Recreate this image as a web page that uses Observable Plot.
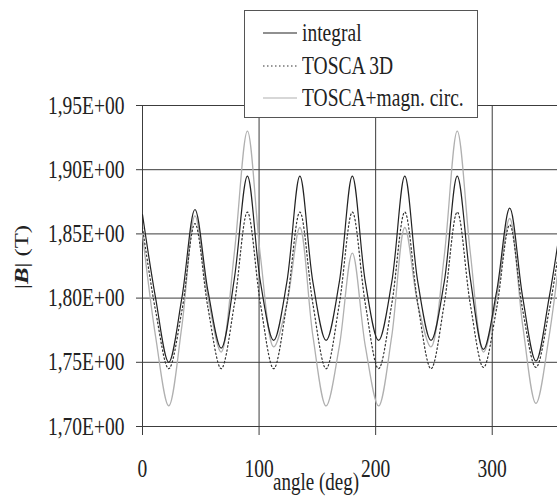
<!DOCTYPE html>
<html>
<head>
<meta charset="utf-8">
<script src="https://cdn.jsdelivr.net/npm/d3@7"></script>
<script src="https://cdn.jsdelivr.net/npm/@observablehq/plot@0.6"></script>
<style>
  body { margin: 0; background: #fff; }
  #wrap { position: relative; width: 557px; height: 498px; overflow: hidden;
          font-family: "Liberation Serif", "Times New Roman", serif; color: #222; }
  #chart { position: absolute; left: 0; top: 0; }
  .legend { position: absolute; left: 244px; top: 10px; width: 234px; height: 108px;
            border: 1px solid #555; background: #fff; box-sizing: border-box; }
  .item { position: absolute; left: 18px; height: 24px; display: flex; align-items: center; font-size: 19.5px; white-space: nowrap; }
  .item svg { margin-right: 5px; }
  .stretch { display: inline-block; transform: scaleY(1.3); transform-origin: center; }
  .xlabel { position: absolute; left: 273px; top: 471px; font-size: 19px; white-space: nowrap; }
  .ylabel { position: absolute; left: 22px; top: 257px; font-size: 19px; white-space: nowrap;
            transform: translate(-50%, -50%) rotate(-90deg) scaleX(1.3); }
</style>
</head>
<body>
<div id="wrap">
  <div id="chart"></div>
  <div class="legend" id="legend"></div>
  <div class="xlabel"><span class="stretch">angle (deg)</span></div>
  <div class="ylabel">|<b><i>B</i></b>| (T)</div>
</div>
<script>
// ---- data ----
const angles = [0, 11.25, 22.5, 33.75, 45, 56.25, 67.5, 78.75, 90, 101.25, 112.5, 123.75, 135, 146.25, 157.5, 168.75, 180,
                191.25, 202.5, 213.75, 225, 236.25, 247.5, 258.75, 270, 281.25, 292.5, 303.75, 315, 326.25, 337.5, 348.75, 360];
const integral = [1.865, 1.800, 1.750, 1.800, 1.869, 1.805, 1.761, 1.815, 1.895, 1.812, 1.767, 1.812, 1.895, 1.812, 1.767, 1.812, 1.895,
                  1.812, 1.767, 1.812, 1.895, 1.812, 1.767, 1.812, 1.895, 1.815, 1.760, 1.805, 1.870, 1.800, 1.751, 1.800, 1.865];
const tosca3d = [1.855, 1.790, 1.745, 1.790, 1.858, 1.792, 1.745, 1.795, 1.867, 1.795, 1.745, 1.795, 1.867, 1.795, 1.745, 1.795, 1.867,
                 1.795, 1.745, 1.795, 1.867, 1.795, 1.745, 1.795, 1.867, 1.795, 1.746, 1.792, 1.857, 1.790, 1.746, 1.790, 1.855];
const toscaMagn = [1.850, 1.770, 1.716, 1.778, 1.864, 1.800, 1.758, 1.835, 1.930, 1.832, 1.762, 1.795, 1.855, 1.770, 1.716, 1.762, 1.835,
                   1.762, 1.716, 1.770, 1.855, 1.795, 1.762, 1.832, 1.930, 1.835, 1.758, 1.800, 1.862, 1.778, 1.718, 1.770, 1.850];
const seriesNames = ["integral", "TOSCA 3D", "TOSCA+magn. circ."];
const yTicks = [1.70, 1.75, 1.80, 1.85, 1.90, 1.95];
const xTicks = [0, 100, 200, 300];
const xDomain = [0, 356];
const yDomain = [1.70, 1.95];

const data = angles.map((a, i) => ({angle: a, integral: integral[i], t3d: tosca3d[i], mc: toscaMagn[i]}));
const fmtY = d => d.toFixed(2).replace(".", ",") + "E+00";
const gridColor = "#3c3c3c";

const chart = Plot.plot({
  width: 557,
  height: 498,
  marginTop: 105,
  marginBottom: 72,
  marginLeft: 142,
  marginRight: 0,
  style: {fontFamily: "Liberation Serif, Times New Roman, serif", fontSize: "19px", color: "#222", background: "white"},
  x: {domain: xDomain, label: null},
  y: {domain: yDomain, label: null},
  marks: [
    Plot.gridY(yTicks, {stroke: gridColor, strokeOpacity: 1, strokeWidth: 1}),
    Plot.gridX(xTicks, {stroke: gridColor, strokeOpacity: 1, strokeWidth: 1}),
    Plot.axisY(yTicks, {tickSize: 6, tickPadding: 12, tickFormat: fmtY, stroke: gridColor, label: null, fontSize: 19.5}),
    Plot.axisX(xTicks, {tickSize: 9, tickPadding: 23, tickFormat: d => String(d), stroke: gridColor, label: null, fontSize: 19.5}),
    Plot.line(data, {x: "angle", y: "mc", stroke: "#b0b0b0", strokeWidth: 1.3, curve: "catmull-rom", clip: true}),
    Plot.line(data, {x: "angle", y: "t3d", stroke: "#333", strokeWidth: 1.2, strokeDasharray: "1.5,2.5", curve: "catmull-rom", clip: true}),
    Plot.line(data, {x: "angle", y: "integral", stroke: "#222", strokeWidth: 1.2, curve: "catmull-rom", clip: true})
  ]
});
document.getElementById("chart").appendChild(chart);

// vertical stretch of the tick labels, as in the scanned reference
d3.select(chart).selectAll('g[aria-label$="tick label"] text').each(function() {
  const t = this.getAttribute("transform");
  if (t) {
    this.setAttribute("transform", t + " scale(1,1.3)");
  } else {
    const x = +this.getAttribute("x") || 0, y = +this.getAttribute("y") || 0;
    this.removeAttribute("x"); this.removeAttribute("y");
    this.setAttribute("transform", `translate(${x},${y}) scale(1,1.3)`);
  }
});

// legend
const styles = [
  {stroke: "#222", dash: null},
  {stroke: "#333", dash: "1.5,2.5"},
  {stroke: "#b0b0b0", dash: null}
];
const legend = document.getElementById("legend");
seriesNames.forEach((name, i) => {
  const item = document.createElement("div");
  item.className = "item";
  item.style.top = (10 + i * 32.5) + "px";
  const s = styles[i];
  item.innerHTML = `<svg width="34" height="4"><line x1="0" x2="34" y1="2" y2="2" stroke="${s.stroke}" stroke-width="1.2" ${s.dash ? `stroke-dasharray="${s.dash}"` : ""}/></svg><span class="stretch">${name}</span>`;
  legend.appendChild(item);
});
</script>
</body>
</html>
